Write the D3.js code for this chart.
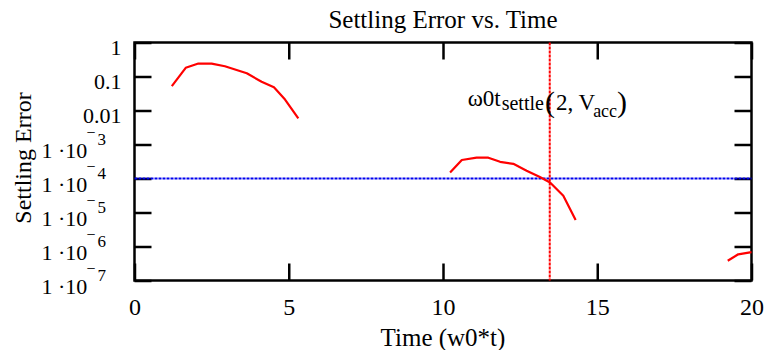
<!DOCTYPE html>
<html>
<head>
<meta charset="utf-8">
<script src="https://cdn.jsdelivr.net/npm/d3@7"></script>
<style>
  body { margin: 0; background: #fff; }
  svg text { font-family: "Liberation Serif", "Times New Roman", serif; fill: #000; }
</style>
</head>
<body>
<div id="chart"></div>
<script>

// Settling error samples (null marks a gap in the curve)
var errTime  = [1.21, 1.66, 2.07, 2.50, 2.93, 3.64, 4.12, 4.52, 4.88, 5.31, null,
                10.23, 10.61, 11.09, 11.47, 11.85, 12.28, 12.71, 13.14, 13.47, 13.90, 14.30, null,
                19.23, 19.57, 20.0];
var errValue = [0.052, 0.18, 0.24, 0.24, 0.20, 0.124, 0.07, 0.048, 0.021, 0.0059, null,
                1.5e-4, 3.5e-4, 4.1e-4, 4.1e-4, 3.1e-4, 2.7e-4, 1.7e-4, 1.1e-4, 7.6e-5, 3.1e-5, 6.0e-6, null,
                3.8e-7, 5.9e-7, 6.8e-7];

var tolerance = 1e-4;   // blue level
var tSettle = 13.46;    // red marker

var xTicks = [0, 5, 10, 15, 20];
var yTicks = [1, 0.1, 0.01, 1e-3, 1e-4, 1e-5, 1e-6, 1e-7];
var yPlainLabels = { 1: '1', 0.1: '0.1', 0.01: '0.01' };

var width = 768, height = 350;
var margin = { top: 42.5, right: 16.5, bottom: 69.5, left: 134.5 };
var serif = '"Liberation Serif", "Times New Roman", serif';

var svg = d3.select('#chart').append('svg')
  .attr('width', width)
  .attr('height', height);

var x = d3.scaleLinear()
  .domain([0, 20])
  .range([margin.left, width - margin.right]);

var y = d3.scaleLog()
  .domain([1e-7, 1])
  .range([height - margin.bottom, margin.top]);

var pLeft = margin.left, pRight = width - margin.right;
var pTop = margin.top, pBottom = height - margin.bottom;

// Tick marks (inward, all four sides)
function styleAxis(g) {
  g.attr('font-family', serif).attr('font-size', 24);
  g.select('.domain').remove();
  g.selectAll('.tick line').attr('stroke', '#000').attr('stroke-width', 2.5);
  g.selectAll('.tick text').attr('fill', '#000');
}

svg.append('g')
    .attr('transform', 'translate(0,' + pBottom + ')')
    .call(d3.axisBottom(x).tickValues(xTicks).tickSizeInner(-17).tickSizeOuter(0).tickPadding(17))
    .call(styleAxis);

svg.append('g')
    .attr('transform', 'translate(0,' + pTop + ')')
    .call(d3.axisTop(x).tickValues(xTicks).tickSizeInner(-17).tickSizeOuter(0).tickFormat(''))
    .call(styleAxis);

svg.append('g')
    .attr('transform', 'translate(' + pLeft + ',0)')
    .call(d3.axisLeft(y).tickValues(yTicks).tickSizeInner(-17).tickSizeOuter(0).tickFormat(''))
    .call(styleAxis);

svg.append('g')
    .attr('transform', 'translate(' + pRight + ',0)')
    .call(d3.axisRight(y).tickValues(yTicks).tickSizeInner(-17).tickSizeOuter(0).tickFormat(''))
    .call(styleAxis);

// Frame
svg.append('rect')
  .attr('x', pLeft)
  .attr('y', pTop)
  .attr('width', pRight - pLeft)
  .attr('height', pBottom - pTop)
  .attr('fill', 'none')
  .attr('stroke', '#000')
  .attr('stroke-width', 2.5);

// Y tick labels
var yLab = svg.append('g');

yLab.selectAll('text.plain')
    .data(yTicks.filter(function (d) { return yPlainLabels[d]; }))
    .enter()
  .append('text')
    .attr('class', 'plain')
    .attr('x', pLeft - 13)
    .attr('y', function (d) { return y(d) + 12; })
    .attr('text-anchor', 'end')
    .style('font-size', '22px')
    .text(function (d) { return yPlainLabels[d]; });

var expLab = yLab.selectAll('text.exp')
    .data(yTicks.filter(function (d) { return !yPlainLabels[d]; }))
    .enter()
  .append('text')
    .attr('class', 'exp')
    .attr('y', function (d) { return y(d) + 13; })
    .style('font-size', '22px');

expLab.append('tspan')
    .attr('x', pLeft - 93)
    .text('1 \u00b710');
expLab.append('tspan')
    .attr('x', pLeft - 48)
    .attr('dy', -20)
    .style('font-size', '16px')
    .text('\u2212');
expLab.append('tspan')
    .attr('x', pLeft - 37)
    .attr('dy', 7)
    .style('font-size', '17px')
    .text(function (d) { return Math.round(-Math.log10(d)); });

// Tolerance line
svg.append('line')
  .attr('x1', pLeft)
  .attr('x2', pRight)
  .attr('y1', y(tolerance))
  .attr('y2', y(tolerance))
  .attr('stroke', '#0000ee')
  .attr('stroke-width', 2.2)
  .attr('stroke-dasharray', '3,1');

// Settling time marker
svg.append('line')
  .attr('x1', x(tSettle))
  .attr('x2', x(tSettle))
  .attr('y1', pTop)
  .attr('y2', pBottom)
  .attr('stroke', '#ff0000')
  .attr('stroke-width', 2)
  .attr('stroke-dasharray', '3,1');

// Error curve
var pts = errTime.map(function (t, i) { return { t: t, v: errValue[i] }; });

var line = d3.line()
  .defined(function (d) { return d.v != null; })
  .x(function (d) { return x(d.t); })
  .y(function (d) { return y(d.v); });

svg.append('path')
  .datum(pts)
  .attr('d', line)
  .attr('fill', 'none')
  .attr('stroke', '#ff0000')
  .attr('stroke-width', 2.2)
  .attr('stroke-linejoin', 'round');

// Annotation
var ann = svg.append('text')
  .attr('x', x(10.8))
  .attr('y', 106)
  .style('font-size', '23px');
ann.append('tspan').text('\u03c90t');
ann.append('tspan').attr('dy', 4).attr('dx', 1).style('font-size', '20px').text('settle');
ann.append('tspan').attr('dy', 2).attr('dx', 1).style('font-size', '30px').text('(');
ann.append('tspan').attr('dy', -2).attr('dx', 1).text('2, V');
ann.append('tspan').attr('dy', 7).attr('dx', -2).style('font-size', '18px').text('acc');
ann.append('tspan').attr('dy', -5).style('font-size', '30px').text(')');

// Titles
svg.append('text')
  .attr('x', (pLeft + pRight) / 2)
  .attr('y', 28)
  .attr('text-anchor', 'middle')
  .style('font-size', '25px')
  .text('Settling Error vs. Time');

svg.append('text')
  .attr('x', (pLeft + pRight) / 2)
  .attr('y', 346)
  .attr('text-anchor', 'middle')
  .style('font-size', '25px')
  .text('Time (w0*t)');

svg.append('text')
  .attr('transform', 'translate(31,158) rotate(-90)')
  .attr('text-anchor', 'middle')
  .style('font-size', '24px')
  .text('Settling Error');

</script>
</body>
</html>
